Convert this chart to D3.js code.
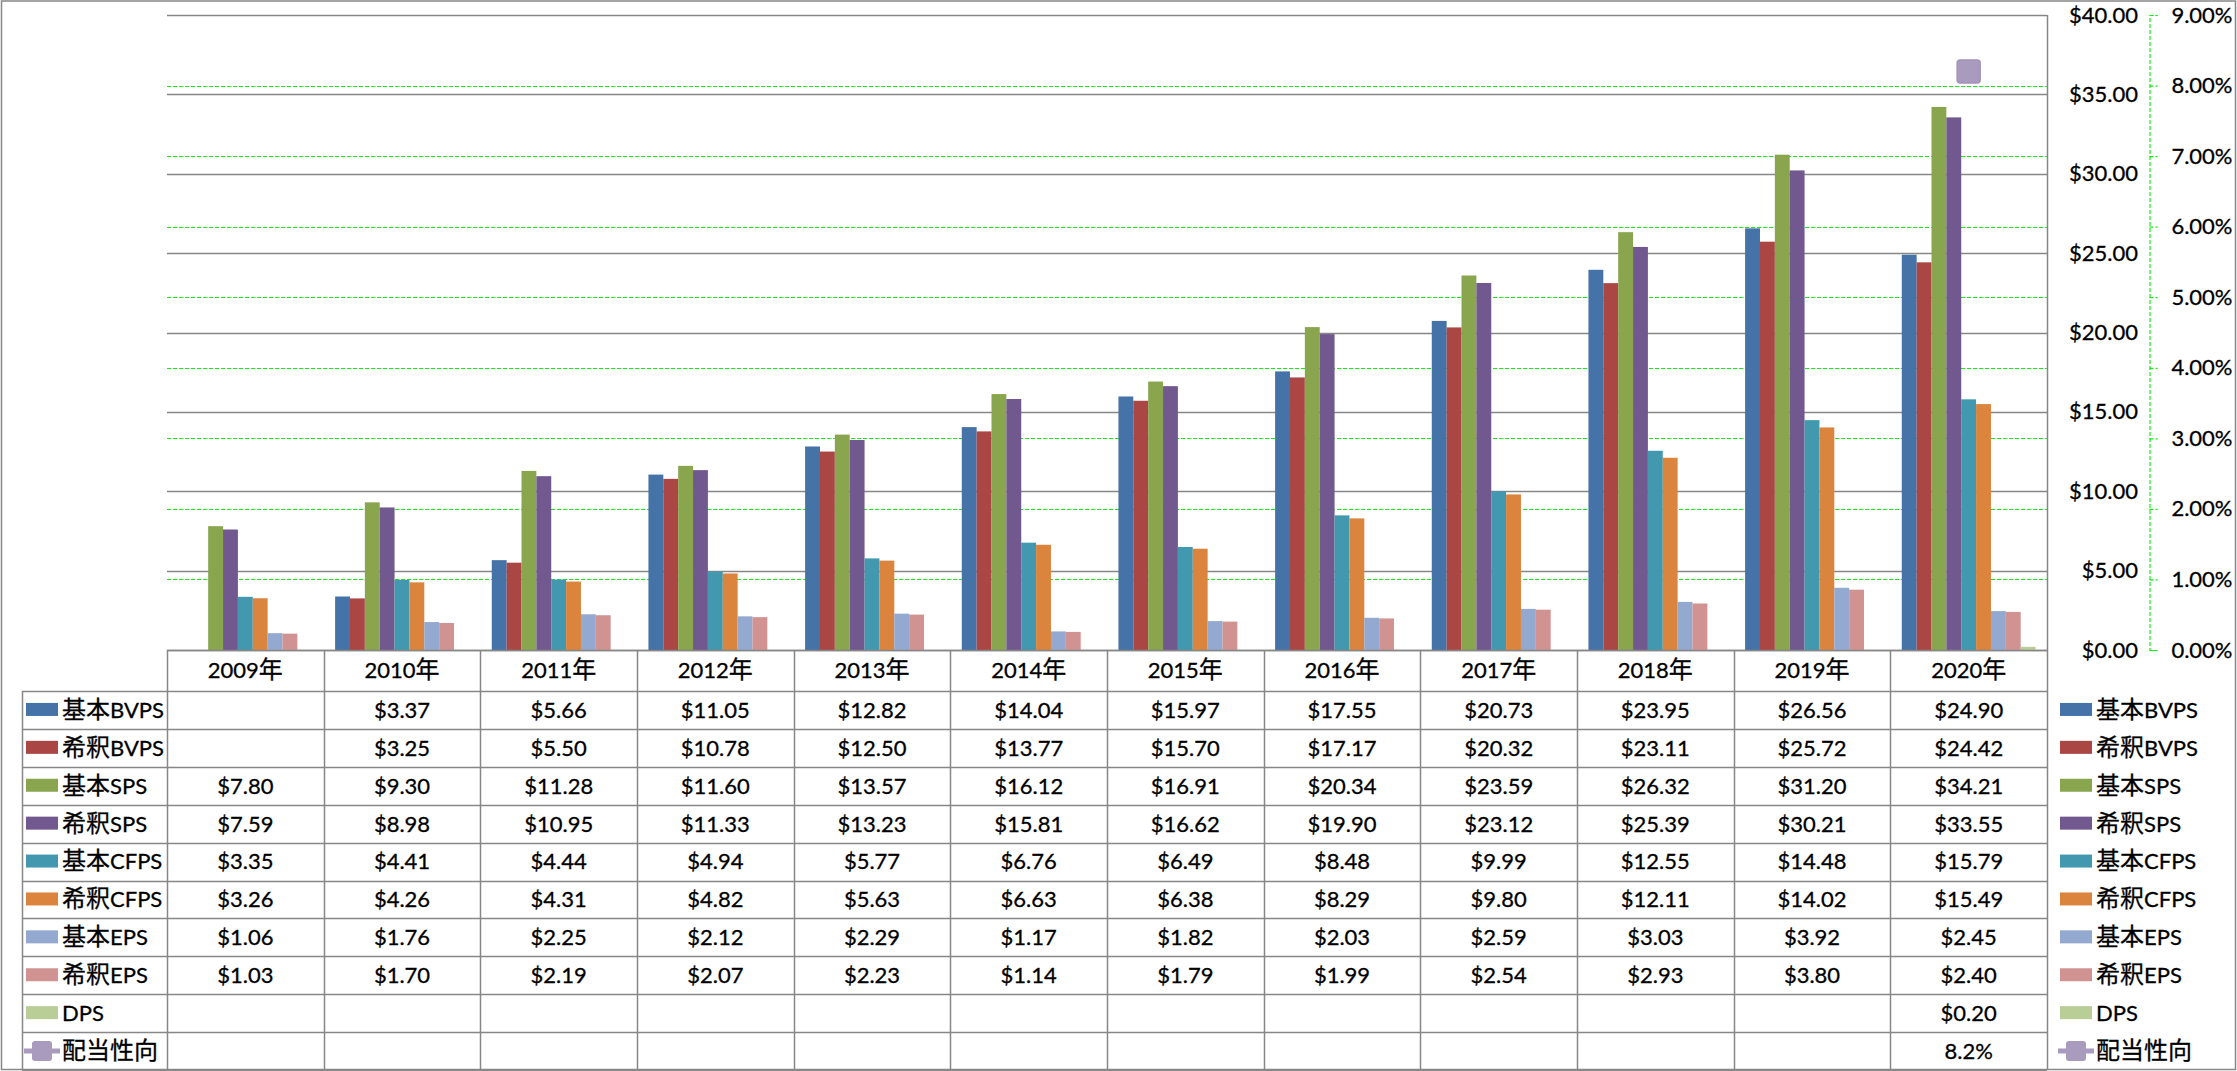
<!DOCTYPE html>
<html><head><meta charset="utf-8">
<script src="https://cdn.jsdelivr.net/npm/d3@7"></script>
<style>
html,body{margin:0;padding:0;background:#fff;}
svg text{font-family:"Lato","Noto Sans CJK JP",sans-serif;font-size:22px;fill:#000;stroke:#000;stroke-width:0.3px;}
svg tspan.cjk{font-family:"Noto Sans CJK JP",sans-serif;font-size:24px;}
</style></head>
<body>
<svg id="chart" width="2237" height="1071"></svg>
<script>
const years = ["2009年","2010年","2011年","2012年","2013年","2014年","2015年","2016年","2017年","2018年","2019年","2020年"];
const seriesNames = ["基本BVPS","希釈BVPS","基本SPS","希釈SPS","基本CFPS","希釈CFPS","基本EPS","希釈EPS","DPS"];
const lineName = "配当性向";
const basicBVPS   = [null, 3.37, 5.66, 11.05, 12.82, 14.04, 15.97, 17.55, 20.73, 23.95, 26.56, 24.90];
const dilutedBVPS = [null, 3.25, 5.50, 10.78, 12.50, 13.77, 15.70, 17.17, 20.32, 23.11, 25.72, 24.42];
const basicSPS    = [7.80, 9.30, 11.28, 11.60, 13.57, 16.12, 16.91, 20.34, 23.59, 26.32, 31.20, 34.21];
const dilutedSPS  = [7.59, 8.98, 10.95, 11.33, 13.23, 15.81, 16.62, 19.90, 23.12, 25.39, 30.21, 33.55];
const basicCFPS   = [3.35, 4.41, 4.44, 4.94, 5.77, 6.76, 6.49, 8.48, 9.99, 12.55, 14.48, 15.79];
const dilutedCFPS = [3.26, 4.26, 4.31, 4.82, 5.63, 6.63, 6.38, 8.29, 9.80, 12.11, 14.02, 15.49];
const basicEPS    = [1.06, 1.76, 2.25, 2.12, 2.29, 1.17, 1.82, 2.03, 2.59, 3.03, 3.92, 2.45];
const dilutedEPS  = [1.03, 1.70, 2.19, 2.07, 2.23, 1.14, 1.79, 1.99, 2.54, 2.93, 3.80, 2.40];
const dps         = [null, null, null, null, null, null, null, null, null, null, null, 0.20];
const payout      = [null, null, null, null, null, null, null, null, null, null, null, 0.082];
const primaryTicks = [0, 5, 10, 15, 20, 25, 30, 35, 40];
const secondaryTicks = [0, 0.01, 0.02, 0.03, 0.04, 0.05, 0.06, 0.07, 0.08, 0.09];

const seriesValues = [basicBVPS, dilutedBVPS, basicSPS, dilutedSPS, basicCFPS, dilutedCFPS, basicEPS, dilutedEPS, dps];
const colors = ["#4572A7","#AA4643","#89A54E","#71588F","#4198AF","#DB843D","#93A9CF","#D19392","#B9CD96"];
const lineColor = "#A99BBD";
const gridColor = "#878787";
const greenColor = "#14EE14";

const svg = d3.select("#chart");
const L = 167, R = 2047, T = 15, B = 650;
const tableLeft = 22, tableBottom = 1070, headerBottom = 691;

const x0 = d3.scaleBand().domain(years).range([L, R]);
const x1 = d3.scaleBand().domain(seriesNames).range([0, x0.bandwidth()]).paddingInner(0).paddingOuter(0.77);
const y = d3.scaleLinear().domain([0, 40]).range([B, T]);
const y2 = d3.scaleLinear().domain([0, 0.09]).range([B, T]);
const rowNames = seriesNames.concat([lineName]);
const rows = d3.scaleBand().domain(rowNames).range([headerBottom, tableBottom]);

// write text with CJK runs in their own tspans
function mixed(sel, str) {
  const parts = str.match(/[\u3000-\u9fff]+|[^\u3000-\u9fff]+/g) || [];
  parts.forEach(p => {
    const t = sel.append("tspan").text(p);
    if (/[\u3000-\u9fff]/.test(p)) t.attr("class", "cjk");
  });
}

// outer border
svg.append("rect").attr("x", 1.5).attr("y", 1).attr("width", 2234).attr("height", 1068.5)
  .attr("fill", "none").attr("stroke", gridColor).attr("stroke-width", 1.5);

// secondary gridlines (green dashed)
svg.append("g").selectAll("line").data(secondaryTicks).join("line")
  .attr("x1", L).attr("x2", R).attr("y1", d => Math.round(y2(d)) + 0.5).attr("y2", d => Math.round(y2(d)) + 0.5)
  .attr("stroke", greenColor).attr("stroke-width", 1.2).attr("stroke-dasharray", "4,2");

// primary gridlines (gray)
svg.append("g").selectAll("line").data(primaryTicks).join("line")
  .attr("x1", L).attr("x2", R).attr("y1", d => Math.round(y(d)) + 0.5).attr("y2", d => Math.round(y(d)) + 0.5)
  .attr("stroke", gridColor).attr("stroke-width", 1.5);

// bars
const bars = svg.append("g");
years.forEach((yr, i) => {
  seriesNames.forEach((s, j) => {
    const v = seriesValues[j][i];
    if (v == null) return;
    bars.append("rect")
      .attr("x", x0(yr) + x1(s))
      .attr("y", y(v))
      .attr("width", x1.bandwidth())
      .attr("height", y(0) - y(v))
      .attr("fill", colors[j]);
  });
});

// payout marker
const pts = years.map((yr, i) => ({yr, v: payout[i]})).filter(d => d.v != null);
const lineGen = d3.line().x(d => x0(d.yr) + x0.bandwidth() / 2).y(d => y2(d.v));
svg.append("path").datum(pts).attr("d", lineGen).attr("fill", "none").attr("stroke", lineColor).attr("stroke-width", 5);
svg.append("g").selectAll("rect").data(pts).join("rect")
  .attr("x", d => x0(d.yr) + x0.bandwidth() / 2 - 11.5).attr("y", d => y2(d.v) - 11.5)
  .attr("width", 23).attr("height", 23).attr("rx", 3)
  .attr("fill", lineColor).attr("stroke", "#A493B9").attr("stroke-width", 1.5);

// primary axis (labels at right)
const yAxis = d3.axisLeft(y).tickValues(primaryTicks).tickSize(0).tickPadding(0)
  .tickFormat(d => "$" + d.toFixed(2));
const ya = svg.append("g").attr("transform", "translate(2138,0)").call(yAxis);
ya.select(".domain").remove();
ya.selectAll("text").attr("font-size", null).attr("font-family", null).attr("x", 0);

// secondary axis
const y2Axis = d3.axisRight(y2).tickValues(secondaryTicks).tickSize(8).tickFormat(d3.format(".2%"));
const y2a = svg.append("g").attr("transform", "translate(2149.5,0)").call(y2Axis);
y2a.select(".domain").attr("stroke", greenColor).attr("stroke-width", 1.2).attr("stroke-dasharray", "4,2");
y2a.selectAll(".tick line").attr("stroke", greenColor).attr("stroke-width", 1.2).attr("stroke-dasharray", "4,2");
y2a.selectAll("text").attr("font-size", null).attr("font-family", null)
  .attr("x", 83).attr("text-anchor", "end");

// table grid
const tbl = svg.append("g").attr("stroke", gridColor).attr("stroke-width", 1.5).attr("fill", "none");
tbl.append("line").attr("x1", L).attr("x2", R).attr("y1", B + 0.5).attr("y2", B + 0.5);
const rowEdges = rowNames.map(r => rows(r)).concat([tableBottom]);
tbl.selectAll("line.row").data(rowEdges).join("line").attr("class", "row")
  .attr("x1", tableLeft).attr("x2", R).attr("y1", d => Math.round(d) + 0.5).attr("y2", d => Math.round(d) + 0.5);
const colEdges = years.map(yr => x0(yr)).concat([R]);
tbl.selectAll("line.col").data(colEdges).join("line").attr("class", "col")
  .attr("x1", d => Math.round(d) + 0.5).attr("x2", d => Math.round(d) + 0.5).attr("y1", B).attr("y2", tableBottom);
tbl.append("line").attr("x1", tableLeft + 0.5).attr("x2", tableLeft + 0.5).attr("y1", headerBottom).attr("y2", tableBottom);
tbl.append("line").attr("x1", R + 0.5).attr("x2", R + 0.5).attr("y1", T).attr("y2", B);

// year labels
svg.append("g").selectAll("text").data(years).join("text")
  .attr("x", d => x0(d) + x0.bandwidth() / 2).attr("y", (B + headerBottom) / 2).attr("dy", "0.36em")
  .attr("text-anchor", "middle").each(function(d) { mixed(d3.select(this), d); });

// table values
const cells = svg.append("g");
const fmtD = d => "$" + d.toFixed(2);
const fmtP = d3.format(".1%");
rowNames.forEach((rn, j) => {
  const vals = j < seriesValues.length ? seriesValues[j] : payout;
  const f = j < seriesValues.length ? fmtD : fmtP;
  years.forEach((yr, i) => {
    const v = vals[i];
    if (v == null) return;
    cells.append("text").attr("x", x0(yr) + x0.bandwidth() / 2).attr("y", rows(rn) + rows.bandwidth() / 2)
      .attr("dy", "0.36em").attr("text-anchor", "middle").text(f(v));
  });
});

// legends (left in table, right beside axis)
function legend(xSw, xText) {
  const g = svg.append("g");
  seriesNames.forEach((s, j) => {
    const cy = rows(s) + rows.bandwidth() / 2;
    g.append("rect").attr("x", xSw).attr("y", cy - 7).attr("width", 32).attr("height", 13).attr("fill", colors[j]);
    g.append("text").attr("x", xText).attr("y", cy).attr("dy", "0.36em").each(function() { mixed(d3.select(this), s); });
  });
  const cy = rows(lineName) + rows.bandwidth() / 2;
  g.append("line").attr("x1", xSw - 2).attr("x2", xSw + 34).attr("y1", cy).attr("y2", cy)
    .attr("stroke", lineColor).attr("stroke-width", 5);
  g.append("rect").attr("x", xSw + 6).attr("y", cy - 10).attr("width", 20).attr("height", 20).attr("rx", 3)
    .attr("fill", lineColor);
  g.append("text").attr("x", xText).attr("y", cy).attr("dy", "0.36em").each(function() { mixed(d3.select(this), lineName); });
}
legend(26, 62);
legend(2060, 2096);
</script>
</body></html>
